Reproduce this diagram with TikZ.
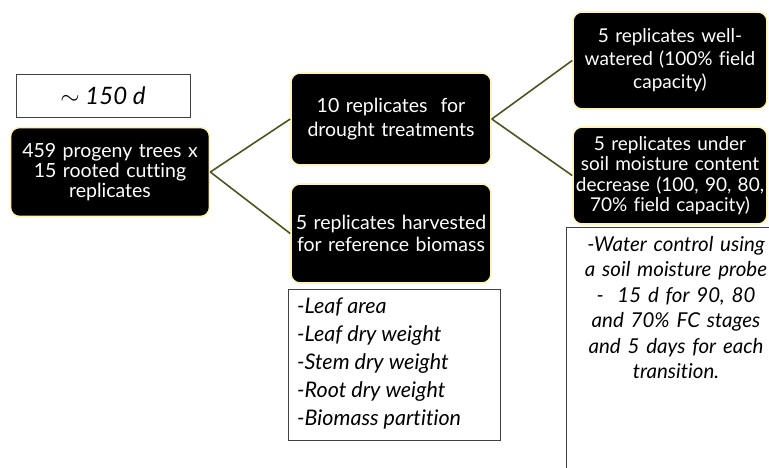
\documentclass[tikz,border=0pt]{standalone}
\usepackage{fontspec}
\setmainfont{Lato}[Ligatures=NoCommon]
\definecolor{olive}{HTML}{4F5320}
\definecolor{glow}{HTML}{FFF3B8}
\tikzset{
  blackbox/.style={draw=glow, line width=1.6pt, fill=black, rounded corners=9pt,
    text=white, align=center, inner sep=0pt},
  plainbox/.style={draw=black!75, line width=0.9pt, fill=white, inner sep=0pt},
  link/.style={draw=olive, line width=1.6pt}
}
\begin{document}
\begin{tikzpicture}[x=1pt,y=-1pt]
\useasboundingbox (0,0) rectangle (769,467);
\begin{scope}
\clip (0,0) rectangle (769,467);
% top-left label
\node[plainbox, minimum width=174pt, minimum height=43pt, font=\fontsize{24}{26}\selectfont\itshape] (days) at (103,96) {$\sim$ 150 d};
% main boxes
\node[blackbox, minimum width=199pt, minimum height=89pt, text width=196pt, font=\fontsize{19.5}{20}\selectfont] (A) at (110,172) {459 progeny trees x\\15 rooted cutting\\replicates};
\node[blackbox, minimum width=200pt, minimum height=92pt, text width=196pt, font=\fontsize{19.5}{23.5}\selectfont] (B) at (391,119) {10 replicates\ \ for\\drought treatments};
\node[blackbox, minimum width=200pt, minimum height=99pt, text width=198pt, font=\fontsize{19.5}{22}\selectfont] (C) at (391,233.5) {5 replicates harvested\\for reference biomass};
\node[blackbox, minimum width=194pt, minimum height=97pt, text width=190pt, font=\fontsize{19}{23}\selectfont] (D) at (670,60.5) {5 replicates well-\\watered (100\% field\\capacity)};
\node[blackbox, minimum width=194pt, minimum height=97pt, text width=194pt, font=\fontsize{19}{20.5}\selectfont] (E) at (670,175.5) {5 replicates under\\soil moisture content\\decrease (100, 90, 80,\\70\% field capacity)};
% lists
\node[plainbox, minimum width=212pt, minimum height=151pt, anchor=north west] (leaf) at (288,289) {};
\node[anchor=north west, align=left, inner sep=0pt, font=\fontsize{21.5}{28}\selectfont\itshape] (leaftxt) at (297,298) {-Leaf area\\-Leaf dry weight\\-Stem dry weight\\-Root dry weight\\-Biomass partition};
\node[plainbox, minimum width=240pt, minimum height=260pt, anchor=north west] (water) at (566,227) {};
\node[anchor=north, align=center, inner sep=0pt, text width=220pt, font=\fontsize{20.5}{25.5}\selectfont\itshape] (watertxt) at (676,236) {-Water control using\\a soil moisture probe\\-\ \ 15 d for 90, 80\\and 70\% FC stages\\and 5 days for each\\transition.};
% connectors
\draw[link] (A.east) -- (B.west);
\draw[link] (A.east) -- (C.west);
\draw[link] (B.east) -- (D.west);
\draw[link] (B.east) -- (E.west);
\end{scope}
\end{tikzpicture}
\end{document}
